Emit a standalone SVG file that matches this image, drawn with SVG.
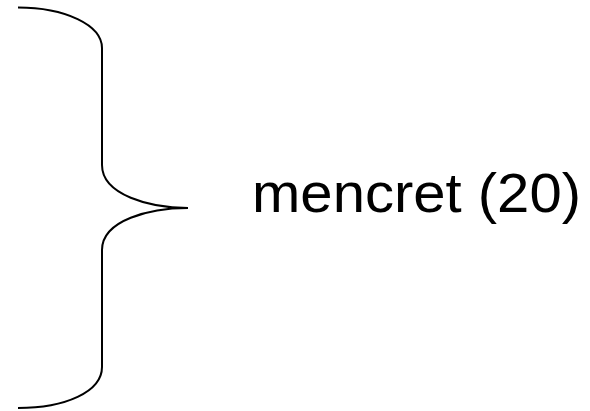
<svg xmlns="http://www.w3.org/2000/svg" width="590" height="411" viewBox="0 0 590 411">
<style>
.brace{fill:none;stroke:#000;stroke-width:2}
.lbl{font-family:"Liberation Sans",Arial,sans-serif;font-size:56px;fill:#000}
</style>
<rect width="590" height="411" fill="#fff"/>
<g id="brace">
<path class="brace" d="M18,7.5 C65,7.5 102,25 102,48 L102,165 C102,195 150,208 188,208 C150,208 102,220 102,250 L102,367 C102,392 65,408 18,408"/>
</g>
<g id="label">
<text class="lbl" x="252" y="212" textLength="329" lengthAdjust="spacingAndGlyphs">mencret (20)</text>
</g>
</svg>
